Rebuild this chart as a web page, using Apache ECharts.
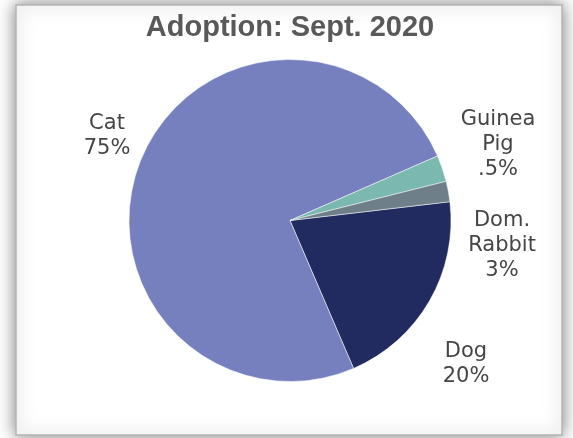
<!DOCTYPE html>
<html>
<head>
<meta charset="utf-8">
<script src="https://cdn.jsdelivr.net/npm/echarts@6/dist/echarts.min.js"></script>
<style>
html,body{margin:0;padding:0;background:#fff;}
#chart{width:573px;height:438px;}
</style>
</head>
<body>
<div id="chart"></div>
<script>
// Data (clockwise from the Dog/Rabbit boundary)
var categories = ['Dog', 'Cat', 'Guinea Pig', 'Dom. Rabbit'];
var labelNames = ['Dog', 'Cat', 'Guinea\nPig', 'Dom.\nRabbit'];
var values = [20.4, 74.9, 2.65, 2.05];
var percentLabels = ['20%', '75%', '.5%', '3%'];

// Styling / layout (not data)
var colors = ['#212B5F', '#7680BF', '#7AB8B0', '#6E7F89'];
var labelAnchors = [[466, 339], [107, 111], [498, 107], [502, 208]];

var chart = echarts.init(document.getElementById('chart'));
chart.setOption({
  animation: false,
  backgroundColor: '#ffffff',
  title: {
    text: 'Adoption: Sept. 2020',
    left: 290,
    top: 13,
    padding: 0,
    textAlign: 'center',
    textStyle: {
      fontFamily: 'Liberation Sans',
      fontWeight: 'bold',
      fontSize: 29,
      color: '#595959'
    }
  },
  graphic: [{
    type: 'rect',
    z: 0,
    silent: true,
    shape: { x: 16, y: 5, width: 546, height: 430 },
    style: {
      fill: '#ffffff',
      stroke: '#b4b4b4',
      lineWidth: 1.5,
      shadowBlur: 16,
      shadowColor: 'rgba(0,0,0,0.5)'
    }
  }],
  series: [{
    type: 'pie',
    z: 2,
    center: [290, 220.5],
    radius: [0, 161],
    startAngle: 6.7,
    clockwise: true,
    avoidLabelOverlap: false,
    itemStyle: { borderColor: '#ffffff', borderWidth: 0.5 },
    label: {
      show: true,
      position: 'outside',
      fontFamily: 'DejaVu Sans',
      fontSize: 21,
      lineHeight: 25,
      color: '#454545',
      align: 'center',
      formatter: function (p) {
        return labelNames[p.dataIndex] + '\n' + percentLabels[p.dataIndex];
      }
    },
    labelLine: { show: false },
    labelLayout: function (p) {
      var a = labelAnchors[p.dataIndex];
      return { x: a[0], y: a[1], align: 'center', verticalAlign: 'top', hideOverlap: false };
    },
    emphasis: { disabled: true },
    data: categories.map(function (c, i) {
      return { name: c, value: values[i], itemStyle: { color: colors[i] } };
    })
  }]
});
</script>
</body>
</html>
